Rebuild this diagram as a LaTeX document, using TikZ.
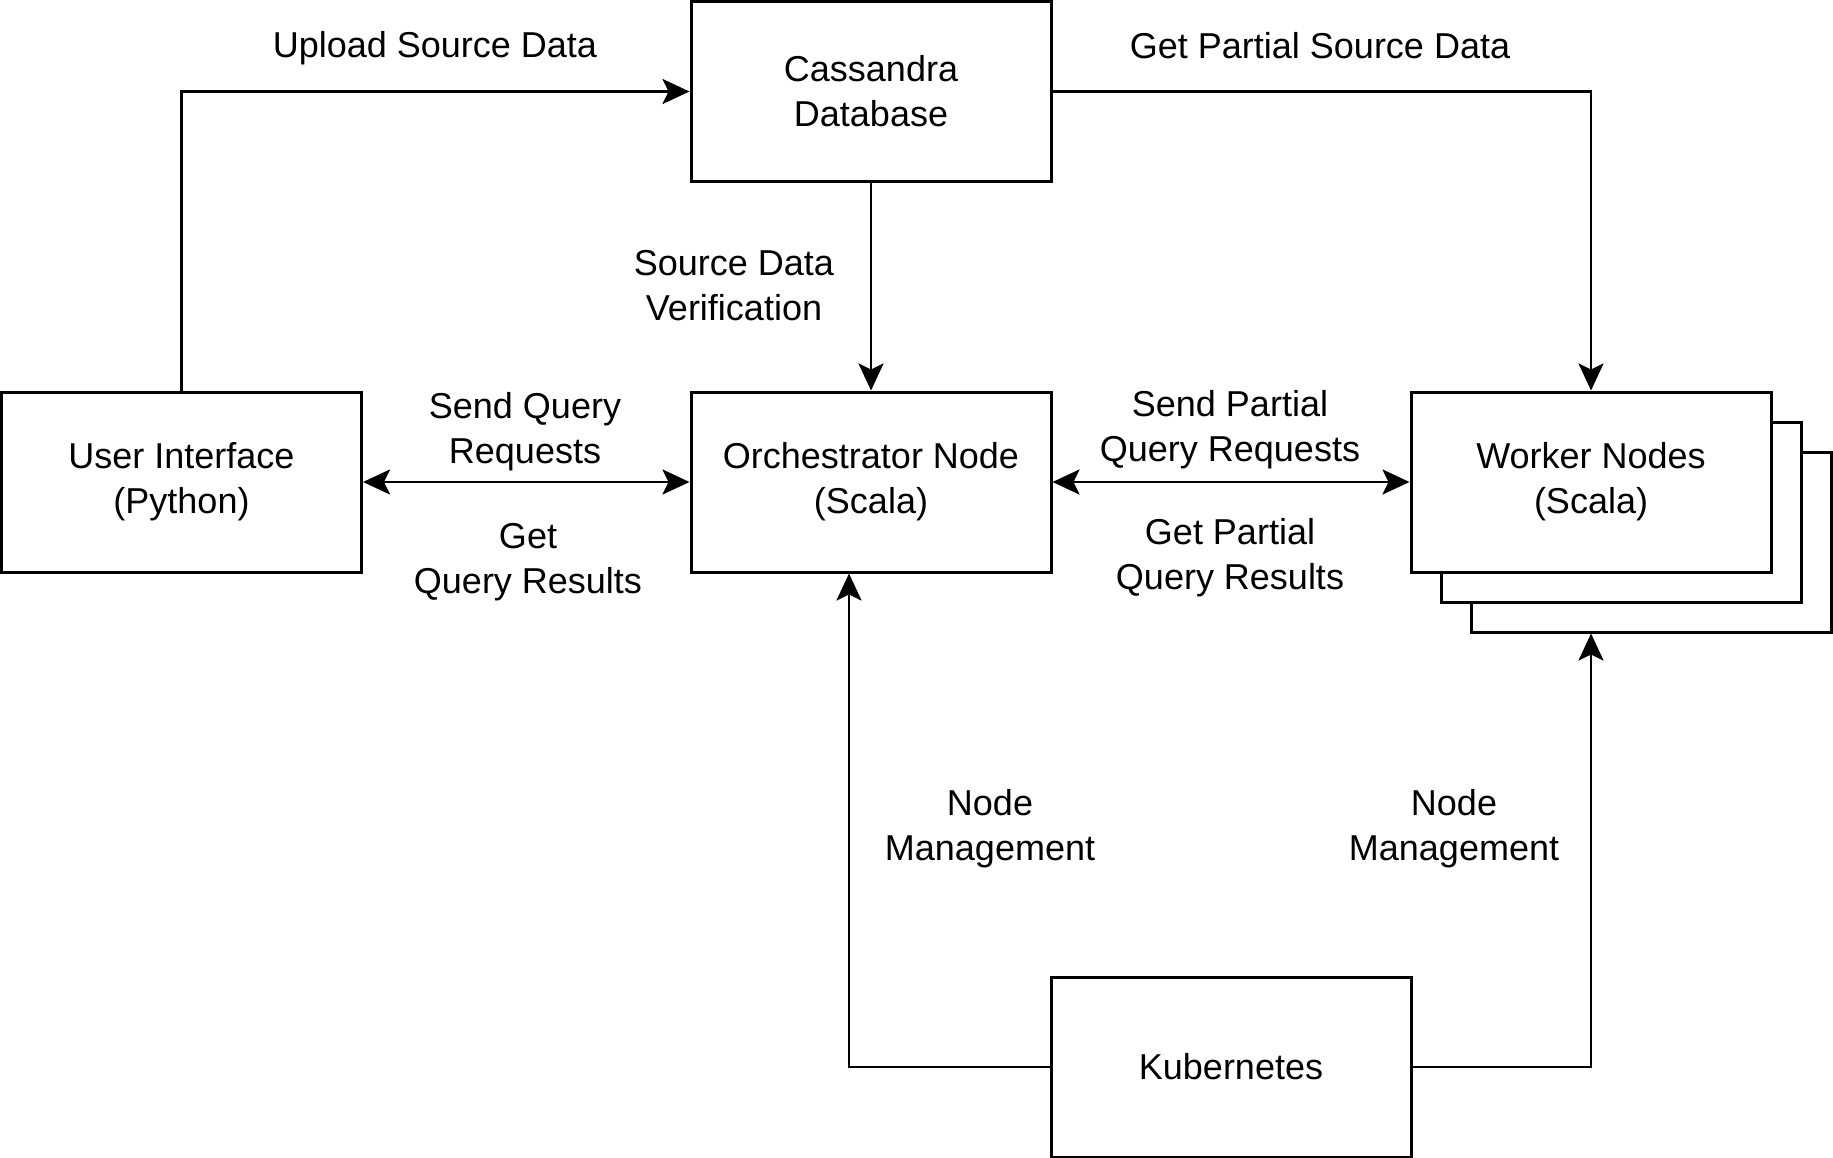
\documentclass[tikz,border=0pt]{standalone}
\usepackage{fontspec}
\setmainfont{Liberation Sans}
\usetikzlibrary{arrows.meta}
\begin{document}
\begin{tikzpicture}[x=1pt,y=-1pt,
  box/.style={draw, line width=3pt, fill=white, minimum width=360pt, minimum height=180pt, align=center, inner sep=0pt, font=\fontsize{36}{45}\selectfont},
  lbl/.style={align=center, inner sep=0pt, font=\fontsize{36}{45}\selectfont},
  tip/.style={Stealth[length=27pt, width=25pt, inset=6pt]},
  arr/.style={line width=2.8pt, -{Stealth[length=27pt, width=25pt, inset=6pt]}},
  arrtwo/.style={line width=2.8pt, {Stealth[length=27pt, width=25pt, inset=6pt]}-{Stealth[length=27pt, width=25pt, inset=6pt]}}]
\useasboundingbox (0,0) rectangle (1833,1158);
\node[box] (cas) at (871,91.5) {Cassandra\\Database};
\node[box] (ui) at (181.5,482) {User Interface\\(Python)};
\node[box] (orch) at (871,482) {Orchestrator Node\\(Scala)};
\node[box] (w3) at (1651,542) {};
\node[box] (w2) at (1621,512) {};
\node[box] (work) at (1591,482) {Worker Nodes\\(Scala)};
\node[box] (kub) at (1231,1067) {Kubernetes};
\coordinate (w3b) at (work.south |- w3.south);
\coordinate (orb) at ([xshift=-22pt]orch.south);
\draw[arr] (ui.north) |- (cas.west);
\draw[arr] (cas.east) -| (work.north);
\draw[arr] (cas.south) -- (orch.north);
\draw[arrtwo] (ui.east) -- (orch.west);
\draw[arrtwo] (orch.east) -- (work.west);
\draw[arr] (kub.west) -| (orb);
\draw[arr] (kub.east) -| (w3b);
\node[lbl] (l1) at (435,48) {Upload Source Data};
\node[lbl] (l2) at (1320,46) {Get Partial Source Data};
\node[lbl] (l3) at (734,286) {Source Data\\Verification};
\node[lbl] (l4) at (525,432) {Send Query\\Requests};
\node[lbl] (l5) at (528,562) {Get\\Query Results};
\node[lbl] (l6) at (1230,430) {Send Partial\\Query Requests};
\node[lbl] (l7) at (1230,558) {Get Partial\\Query Results};
\node[lbl] (l8) at (990,829) {Node\\Management};
\node[lbl] (l9) at (1454,829) {Node\\Management};
\end{tikzpicture}
\end{document}
